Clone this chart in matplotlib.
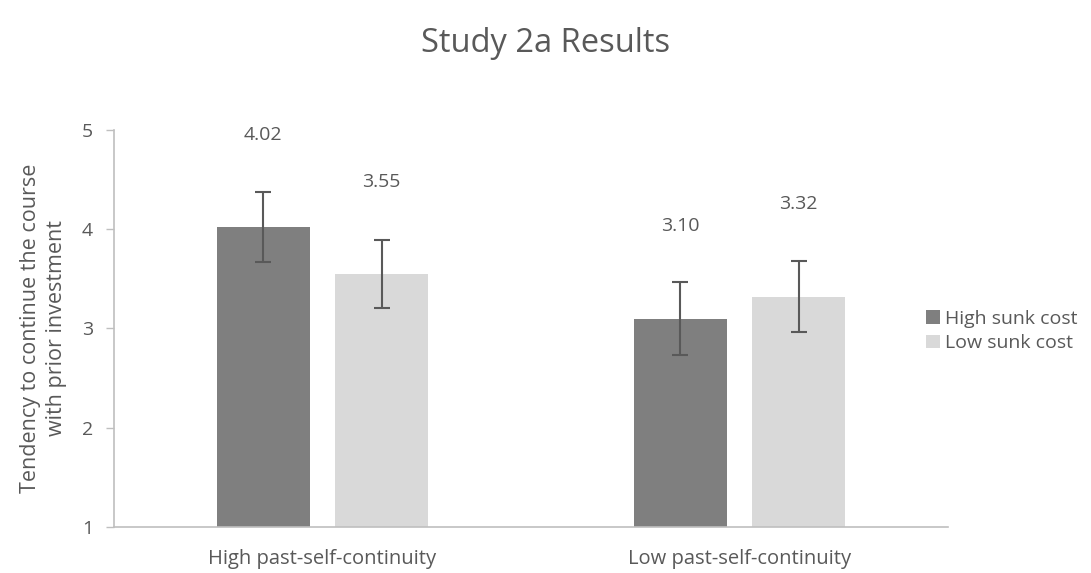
import matplotlib
matplotlib.use("Agg")
import matplotlib.pyplot as plt
import numpy as np
from matplotlib.patches import Patch

categories = ["High past-self-continuity", "Low past-self-continuity"]
series_names = ["High sunk cost", "Low sunk cost"]
high_sunk = [4.02, 3.10]
low_sunk = [3.55, 3.32]
high_err = [0.355, 0.365]
low_err = [0.34, 0.36]
value_labels_high = ["4.02", "3.10"]
value_labels_low = ["3.55", "3.32"]
yticks = [1, 2, 3, 4, 5]

plt.rcParams['font.family'] = ['Open Sans', 'DejaVu Sans']
txt = '#595959'
c_high = '#7f7f7f'
c_low = '#d9d9d9'

fig = plt.figure(figsize=(10.91, 5.73), dpi=100)
ax = fig.add_axes([114/1091, 1-527/573, (948-114)/1091, (527-130)/573])

x = np.arange(len(categories))
bw = 0.2237
gap = 0.06
off = (bw + gap) / 2
ax.bar(x - off, np.array(high_sunk) - 1, bw, bottom=1, color=c_high, zorder=2)
ax.bar(x + off, np.array(low_sunk) - 1, bw, bottom=1, color=c_low, zorder=2)
ax.errorbar(x - off, high_sunk, yerr=high_err, fmt='none', ecolor='#595959',
            elinewidth=1.5, capsize=6, capthick=1.5, zorder=3)
ax.errorbar(x + off, low_sunk, yerr=low_err, fmt='none', ecolor='#595959',
            elinewidth=1.5, capsize=6, capthick=1.5, zorder=3)

for xi, v, lab in zip(x - off, high_sunk, value_labels_high):
    ax.text(xi, v + 0.93, lab, ha='center', va='center', fontsize=14, color=txt)
for xi, v, lab in zip(x + off, low_sunk, value_labels_low):
    ax.text(xi, v + 0.93, lab, ha='center', va='center', fontsize=14, color=txt)

ax.set_xlim(-0.5, 1.5)
ax.set_ylim(1, 5)
ax.set_yticks(yticks)
ax.set_xticks(x)
ax.set_xticklabels(categories, fontsize=14.5, color=txt)
ax.tick_params(axis='x', length=0, pad=16)
ax.tick_params(axis='y', length=6, width=1, color='#bfbfbf', labelsize=14,
               labelcolor=txt, pad=9)
for s in ['top', 'right']:
    ax.spines[s].set_visible(False)
for s in ['left', 'bottom']:
    ax.spines[s].set_color('#bfbfbf')
    ax.spines[s].set_linewidth(1.2)

ax.set_ylabel("Tendency to continue the course\nwith prior investment",
              fontsize=15.5, color=txt, labelpad=11, linespacing=1.3)

fig.text(0.5, 1-44/573, "Study 2a Results", ha='center', va='center',
         fontsize=23.5, color=txt)

handles = [Patch(facecolor=c_high, edgecolor='none'),
           Patch(facecolor=c_low, edgecolor='none')]
leg = fig.legend(handles, series_names, loc='center left',
                 bbox_to_anchor=(916/1091, 1-331/573), frameon=False,
                 fontsize=14, handlelength=0.75, handleheight=0.7,
                 handletextpad=0.25, labelspacing=0.35, borderpad=0)
for t in leg.get_texts():
    t.set_color(txt)

fig.savefig("out.png", dpi=100)
